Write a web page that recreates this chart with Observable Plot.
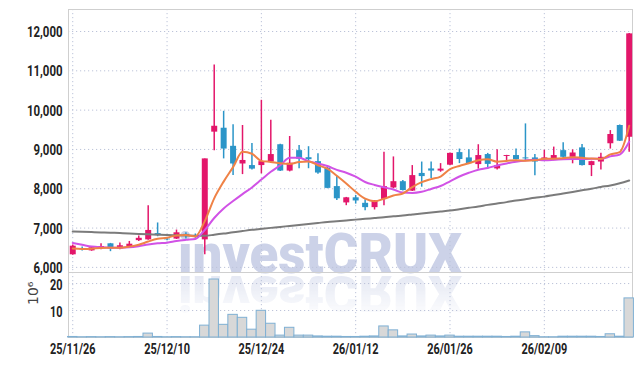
<!DOCTYPE html>
<html><head><meta charset="utf-8">
<script src="https://cdn.jsdelivr.net/npm/d3@7"></script>
<script src="https://cdn.jsdelivr.net/npm/@observablehq/plot@0.6"></script>
<style>
html,body{margin:0;padding:0;background:#fff;}
#wrap{position:relative;width:642px;height:366px;overflow:hidden;background:#fff;}
#wrap > svg{position:absolute;left:0;}
</style></head><body><div id="wrap"></div>
<script>
const dates = ["25/11/26","25/11/27","25/11/28","25/12/01","25/12/02","25/12/03","25/12/04","25/12/05","25/12/08","25/12/09","25/12/10","25/12/11","25/12/12","25/12/15","25/12/16","25/12/17","25/12/18","25/12/19","25/12/22","25/12/23","25/12/24","25/12/26","25/12/29","25/12/30","26/01/02","26/01/05","26/01/06","26/01/07","26/01/08","26/01/09","26/01/12","26/01/13","26/01/14","26/01/15","26/01/16","26/01/19","26/01/20","26/01/21","26/01/22","26/01/23","26/01/26","26/01/27","26/01/28","26/01/29","26/01/30","26/02/02","26/02/03","26/02/04","26/02/05","26/02/06","26/02/09","26/02/10","26/02/11","26/02/12","26/02/13","26/02/19","26/02/20","26/02/23","26/02/24","26/02/25"];
const open  = [6320,6480,6420,6490,6600,6470,6510,6680,6700,6860, 6720,6720,6840,6810,6700,9440,9540,9080,8630,8590, 8590,8680,9120,8450,8970,8790,8690,8520,8055,7640, 7770,7630,7520,7730,8020,8180,7940,8390,8505,8450, 8600,8920,8785,8615,8870,8505,8820,8845,8785,8785, 8740,8740,8970,8800,9040,8590,8680,9145,9610,9310];
const high  = [6570,6520,6520,6600,6610,6620,6660,6800,7570,7130, 6760,6950,6880,6850,8760,11150,9970,9630,9610,9150, 10250,9740,9130,9330,9100,9070,8890,8560,8310,7780, 7830,7720,7700,8930,8810,8210,8590,8680,8680,8640, 8910,9010,8990,9120,8900,8990,8850,9010,9650,8870, 8980,9060,9170,8990,9125,8700,8905,9480,9620,11950];
const low   = [6310,6420,6410,6450,6400,6450,6500,6660,6690,6780, 6680,6710,6720,6740,6320,8970,8760,8340,8360,8480, 8380,8660,8440,8430,8510,8510,8370,8000,7700,7570, 7610,7440,7460,7570,8000,7940,7930,8040,8260,8420, 8590,8640,8620,8500,8500,8480,8720,8730,8720,8330, 8720,8710,8760,8635,8580,8310,8480,9010,9200,8930];
const close = [6540,6450,6500,6530,6470,6550,6590,6740,6940,6810, 6700,6880,6790,6760,8760,9590,9010,8630,8720,8500, 8690,8870,8450,8650,8750,8740,8400,8010,7745,7770, 7690,7520,7690,8055,8180,7955,8335,8310,8450,8500, 8900,8745,8640,8845,8620,8590,8845,8740,8760,8680, 8785,8845,8800,8910,8590,8690,8800,9380,9210,11940];
const volume = [0.2,0.1,0.15,0.1,0.15,0.1,0.15,0.2,1.45,0.2, 0.1,0.15,0.1,0.1,4.4,21.5,4.7,8.4,7.3,2.9, 9.9,5.1,0.7,3.6,0.7,0.7,0.4,0.3,0.3,0.2, 0.2,0.3,0.4,4.1,2.65,0.4,1.1,0.4,0.7,0.4, 0.7,0.3,0.3,0.3,0.3,0.3,0.2,0.3,1.9,0.5, 0.1,0.1,0.3,0.3,0.3,0.3,0.2,1.2,0.3,14.5];
const ma5  = [6480,6470,6475,6495,6498,6500,6528,6576,6658,6726, 6756,6814,6824,6788,7178,7756,8182,8550,8942,8890, 8710,8682,8646,8632,8682,8692,8598,8510,8329,8133, 7923,7747,7683,7745,7827,7880,8043,8167,8246,8310, 8499,8581,8647,8726,8750,8688,8708,8728,8711,8723, 8762,8762,8774,8804,8786,8767,8758,8874,8934,9604];
const ma10 = [6620,6575,6530,6510,6500,6500,6510,6540,6580,6612, 6628,6671,6700,6723,6952,7256,7498,7687,7865,8034, 8233,8432,8598,8787,8786,8701,8640,8578,8481,8408, 8308,8173,8097,8037,7980,7902,7895,7925,7996,8069, 8190,8312,8407,8486,8530,8594,8645,8688,8719,8737, 8725,8735,8751,8758,8755,8765,8760,8824,8869,9195];
const maLong = [6910,6905,6898,6890,6882,6872,6862,6852,6842,6832, 6822,6815,6810,6806,6805,6830,6860,6895,6925,6955, 6980,7005,7030,7055,7080,7105,7130,7155,7175,7195, 7215,7235,7255,7275,7300,7320,7345,7370,7395,7420, 7445,7480,7515,7550,7590,7625,7660,7700,7735,7770, 7800,7840,7880,7920,7960,8000,8045,8085,8140,8210];
const priceTicks = [6000,7000,8000,9000,10000,11000,12000];
const volumeTicks = [10,20];
const xTickIndex = [0,10,20,30,40,50];
const volumeUnit = ["10⁶"];
const watermark = "investCRUX";

const RED = "#e3166a", BLUE = "#2b95c8", GRID = "#bcc3d9", FRAME = "#cfcfcf";
const FONT = "Roboto, 'Liberation Sans', sans-serif";
const rows = dates.map((d, i) => ({i, date: d, open: open[i], high: high[i], low: low[i], close: close[i], vol: volume[i], ma5: ma5[i], ma10: ma10[i], maLong: maLong[i]}));
const color = d => d.close >= d.open ? RED : BLUE;
const xDomain = [-0.45, 59.35];
const style = {fontFamily: FONT, fontSize: "14px", fontWeight: "bold", color: "#222", background: "transparent", overflow: "visible"};

const wrap = document.getElementById("wrap");

// watermark with its mirrored reflection (a <use> of the same text)
const ns = "http://www.w3.org/2000/svg";
const wm = document.createElementNS(ns, "svg");
wm.setAttribute("width", 642); wm.setAttribute("height", 366); wm.style.top = "0px";
wm.innerHTML = `<defs>
<linearGradient id="fadeG" gradientUnits="userSpaceOnUse" x1="0" y1="276" x2="0" y2="314"><stop offset="0" stop-color="#fff" stop-opacity="1"/><stop offset="1" stop-color="#fff" stop-opacity="0.15"/></linearGradient>
<mask id="fadeM" maskUnits="userSpaceOnUse" x="0" y="270" width="642" height="96"><rect x="0" y="270" width="642" height="96" fill="url(#fadeG)"/></mask></defs>
<text id="wmMain" x="178" y="273" font-family="Roboto, 'DejaVu Sans', sans-serif" font-weight="900" font-size="56" textLength="284" lengthAdjust="spacingAndGlyphs" fill="#ccd2e8">${watermark}</text>
<g mask="url(#fadeM)" opacity="0.5"><use href="#wmMain" transform="matrix(1 0 0 -0.9 0 521.7)"/></g>`;
wrap.appendChild(wm);

const price = Plot.plot({
  width: 642, height: 272, marginLeft: 68, marginRight: 10, marginTop: 9, marginBottom: 0,
  style,
  x: {domain: xDomain, axis: null, label: null},
  y: {domain: [5870, 12560], label: null, axis: null},
  marks: [
    Plot.gridX(xTickIndex, {stroke: GRID, strokeOpacity: 1, strokeDasharray: "1.2,2.8"}),
    Plot.gridY(priceTicks, {stroke: GRID, strokeOpacity: 1, strokeDasharray: "1.2,2.8"}),
    Plot.frame({stroke: FRAME}),
    Plot.axisY(priceTicks, {tickSize: 0, tickPadding: 6, dy: 1, tickFormat: d3.format(","), fill: "#222"}),
    Plot.ruleX(rows, {x: "i", y1: "low", y2: "high", stroke: color, strokeWidth: 1.5}),
    Plot.ruleX(rows, {x: "i", y1: "open", y2: "close", stroke: color, strokeWidth: 6}),
    Plot.line(rows, {x: "i", y: "maLong", stroke: "#7b7b7b", strokeWidth: 2, curve: "monotone-x"}),
    Plot.line(rows, {x: "i", y: "ma10", stroke: "#d152e6", strokeWidth: 2, curve: "monotone-x"}),
    Plot.line(rows, {x: "i", y: "ma5", stroke: "#ef8246", strokeWidth: 2, curve: "monotone-x"})
  ]
});
price.style.top = "0px";
wrap.appendChild(price);

const vol = Plot.plot({
  width: 642, height: 94, marginLeft: 68, marginRight: 10, marginTop: 0, marginBottom: 29,
  style,
  x: {domain: xDomain, label: null, axis: null},
  y: {domain: [0, 24.1], label: null, axis: null},
  marks: [
    Plot.gridX(xTickIndex, {stroke: GRID, strokeOpacity: 1, strokeDasharray: "1.2,2.8"}),
    Plot.gridY(volumeTicks, {stroke: GRID, strokeOpacity: 1, strokeDasharray: "1.2,2.8"}),
    Plot.frame({stroke: FRAME}),
    Plot.rectY(rows, {x1: d => d.i - 0.5, x2: d => d.i + 0.5, y: "vol", fill: "#d8d8d8", stroke: "#7fb0d4", strokeWidth: 1}),
    Plot.axisY(volumeTicks, {tickSize: 0, tickPadding: 6, dy: 2, fill: "#222"}),
    Plot.axisX(xTickIndex, {tickSize: 0, tickPadding: 7, tickFormat: i => dates[i], fill: "#222"}),
    Plot.text(volumeUnit, {text: d => d, frameAnchor: "left", dx: -35, rotate: -90, fontSize: 14, fontWeight: "normal", fontFamily: "'DejaVu Sans',sans-serif", fill: "#444"})
  ]
});
vol.style.top = "272px";
wrap.appendChild(vol);

// condense tick labels to the narrow look of the reference
function condense(svg, selector, refText, refWidth) {
  const texts = Array.from(svg.querySelectorAll(selector));
  const ref = texts.find(t => t.textContent === refText);
  if (!ref) return;
  const k = refWidth / ref.getComputedTextLength();
  texts.forEach(t => {
    t.setAttribute("textLength", (t.getComputedTextLength() * k).toFixed(2));
    t.setAttribute("lengthAdjust", "spacingAndGlyphs");
  });
}
condense(price, 'g[aria-label="y-axis tick label"] text', "12,000", 35.6);
condense(vol, 'g[aria-label="y-axis tick label"] text', "20", 12.5);
condense(vol, 'g[aria-label="x-axis tick label"] text', "25/11/26", 45.7);
</script></body></html>
